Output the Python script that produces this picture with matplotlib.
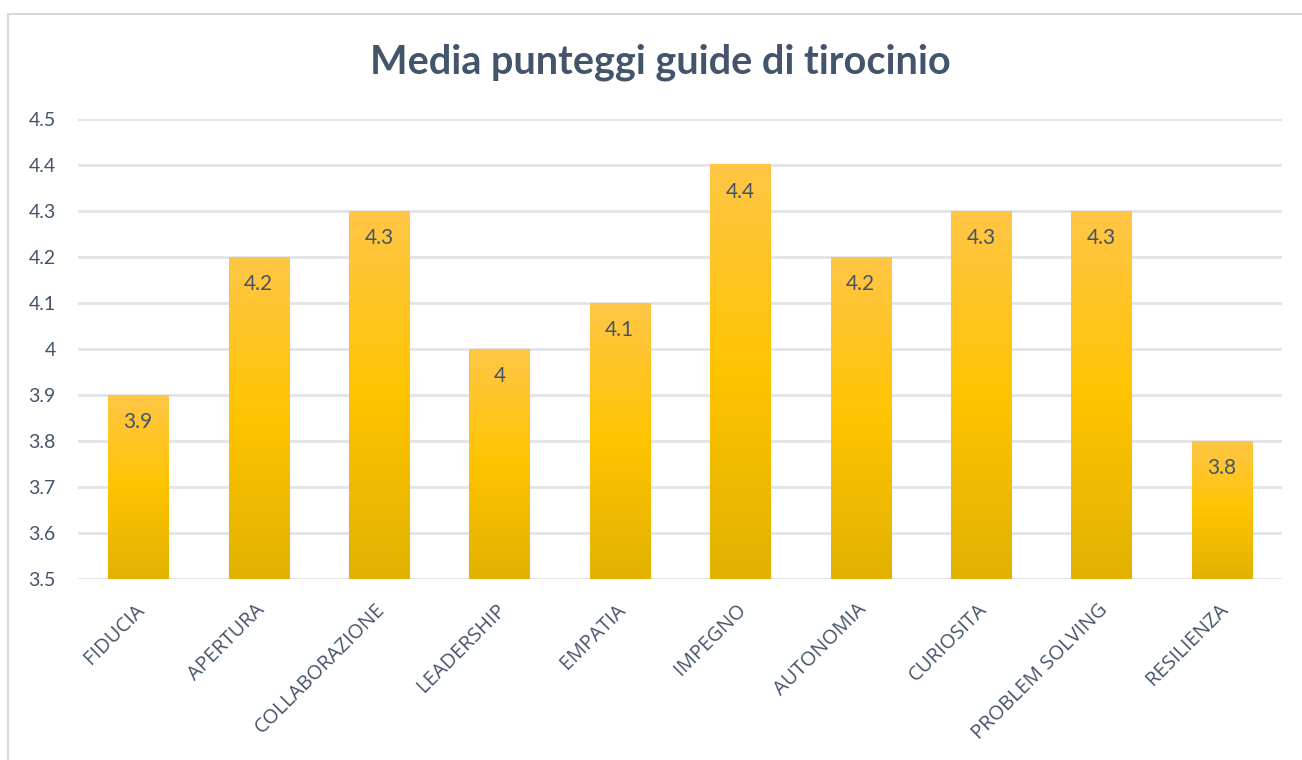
import numpy as np
import matplotlib
matplotlib.use("Agg")
import matplotlib.pyplot as plt
from matplotlib.colors import LinearSegmentedColormap
from matplotlib.patches import Rectangle
from matplotlib.transforms import ScaledTranslation

categories = ["FIDUCIA", "APERTURA", "COLLABORAZIONE", "LEADERSHIP", "EMPATIA",
              "IMPEGNO", "AUTONOMIA", "CURIOSITA", "PROBLEM SOLVING", "RESILIENZA"]
scores = [3.9, 4.2, 4.3, 4.0, 4.1, 4.4, 4.2, 4.3, 4.3, 3.8]
y_ticks = [3.5, 3.6, 3.7, 3.8, 3.9, 4.0, 4.1, 4.2, 4.3, 4.4, 4.5]
y_tick_labels = ["3.5", "3.6", "3.7", "3.8", "3.9", "4", "4.1", "4.2", "4.3", "4.4", "4.5"]
title = "Media punteggi guide di tirocinio"

text_color = "#44546A"
grid_color = "#E1E4EA"
font = ["Lato", "DejaVu Sans"]
cat_font = ["Open Sans", "DejaVu Sans"]

# bottom -> top gradient used for every bar
gold = LinearSegmentedColormap.from_list(
    "gold", [(0.0, "#E2B100"), (0.5, "#FFC400"), (1.0, "#FFC646")])

fig = plt.figure(figsize=(13.02, 7.6), dpi=100)
fig.patch.set_facecolor("white")
fig.patches.append(Rectangle((8 / 1302, -0.05), 1.2, 0.05 + 1 - 14 / 760,
                             transform=fig.transFigure, fill=False,
                             edgecolor="#D9D9D9", linewidth=1.5))

ax = fig.add_axes([78 / 1302, 1 - 579 / 760, 1204 / 1302, 460 / 760])
ymin, ymax = 3.5, 4.5

for yv in y_ticks:
    ax.axhline(yv, color=grid_color, linewidth=2, zorder=0)

grad = np.linspace(0, 1, 256).reshape(-1, 1)
bar_w = 0.5
for i, v in enumerate(scores):
    ax.imshow(grad, cmap=gold, origin="lower", aspect="auto",
              extent=(i - bar_w / 2, i + bar_w / 2, ymin, v),
              interpolation="bilinear", zorder=2)
    ax.text(i, v - 0.058, f"{v:g}", ha="center", va="center",
            fontsize=15, color=text_color, family=font, zorder=3)

ax.set_xlim(-0.5, len(categories) - 0.5)
ax.set_ylim(ymin, ymax)

for s in ax.spines.values():
    s.set_visible(False)
ax.set_yticks(y_ticks)
ax.set_yticklabels(y_tick_labels, fontsize=14, color=text_color, family=font)
ax.tick_params(axis="y", length=0, pad=16)
ax.set_xticks(range(len(categories)))
ax.set_xticklabels(categories, rotation=45, ha="right", rotation_mode="anchor",
                   fontsize=14.5, color=text_color, family=cat_font)
ax.tick_params(axis="x", length=0, pad=15)
shift = ScaledTranslation(-4 / 100, 0, fig.dpi_scale_trans)
for lbl in ax.get_xticklabels():
    lbl.set_transform(lbl.get_transform() + shift)

fig.text(660 / 1302, 1 - 62 / 760, title, ha="center", va="center",
         fontsize=28.5, fontweight="bold", color=text_color, family=font)

fig.savefig("out.png", dpi=100, facecolor="white")
